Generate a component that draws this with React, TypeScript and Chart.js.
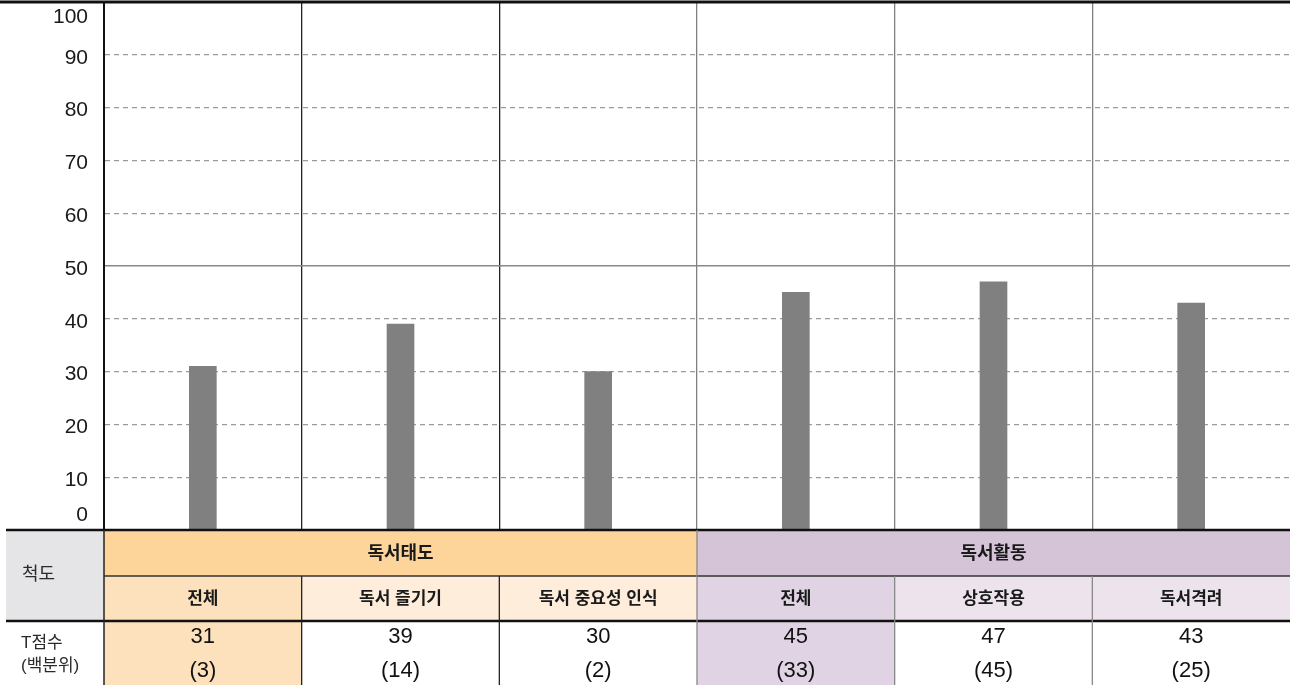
import { useEffect, useRef } from "react";
import Chart from "chart.js/auto";

// 척도별 T점수 / 백분위
const categories = ["전체", "독서 즐기기", "독서 중요성 인식", "전체", "상호작용", "독서격려"];
const groupLabels = ["독서태도", "독서활동"];
const groupSpans = [3, 3];
const tScores = [31, 39, 30, 45, 47, 43];
const percentiles = [3, 14, 2, 33, 45, 25];
const yTicks = [0, 10, 20, 30, 40, 50, 60, 70, 80, 90, 100];
const rowHeader = "척도";
const scoreHeader = ["T점수", "(백분위)"];

const groupColors = ["#fdd59b", "#d5c3d8"];
const firstColColors = ["#fde1bd", "#e0d3e3"];
const subColors = ["#feeddb", "#ece3ed"];
const FONT = "'Liberation Sans', 'Noto Sans CJK KR', sans-serif";

const tablePlugin = {
  id: "scoreTable",
  afterDraw(chart: any) {
    const { ctx, chartArea } = chart;
    const xs = chart.scales.x;
    const ys = chart.scales.y;
    const n = categories.length;
    const colW = (xs.right - xs.left) / n;
    const edge = (i: number) => xs.left + i * colW;
    const left = chartArea.left;
    const right = chartArea.right;
    const tableLeft = 6;
    const r0 = chartArea.bottom;
    const r1 = r0 + 46;
    const r2 = r1 + 45;
    const r3 = chart.height;

    ctx.save();

    // y tick labels
    ctx.font = `21px ${FONT}`;
    ctx.fillStyle = "#1a1a1a";
    ctx.textAlign = "right";
    ctx.textBaseline = "middle";
    yTicks.forEach((v) => {
      const py = ys.getPixelForValue(v);
      const ly = Math.min(Math.max(py + 3, chartArea.top + 15), chartArea.bottom - 15);
      ctx.fillText(String(v), left - 16, ly);
    });

    // cell fills
    ctx.fillStyle = "#e5e5e7";
    ctx.fillRect(tableLeft, r0, left - tableLeft, r2 - r0);
    let col = 0;
    groupSpans.forEach((span, g) => {
      ctx.fillStyle = groupColors[g];
      ctx.fillRect(edge(col), r0, edge(col + span) - edge(col), r1 - r0);
      for (let k = 0; k < span; k++) {
        const c = col + k;
        ctx.fillStyle = k === 0 ? firstColColors[g] : subColors[g];
        ctx.fillRect(edge(c), r1, colW, r2 - r1);
        if (k === 0) {
          ctx.fillStyle = firstColColors[g];
          ctx.fillRect(edge(c), r2, colW, r3 - r2);
        }
      }
      col += span;
    });

    const hline = (x1: number, x2: number, y: number, w: number, c: string) => {
      ctx.beginPath();
      ctx.lineWidth = w;
      ctx.strokeStyle = c;
      ctx.moveTo(x1, y);
      ctx.lineTo(x2, y);
      ctx.stroke();
    };
    const vline = (x: number, y1: number, y2: number, w: number, c: string) => {
      ctx.beginPath();
      ctx.lineWidth = w;
      ctx.strokeStyle = c;
      ctx.moveTo(x, y1);
      ctx.lineTo(x, y2);
      ctx.stroke();
    };

    hline(0, right, chartArea.top, 3, "#111");
    hline(tableLeft, right, r0, 2.5, "#111");
    hline(tableLeft, right, r2, 2.5, "#111");
    hline(left, right, r1, 1.5, "#333");
    vline(left, r0, r3, 1.5, "#222");
    vline(edge(groupSpans[0]), r0, r3, 1.3, "#888");
    for (let i = 1; i < n; i++) {
      if (i === groupSpans[0]) continue;
      vline(edge(i), r1, r3, 1.3, i < groupSpans[0] ? "#222" : "#888");
    }

    // texts
    ctx.fillStyle = "#2a2a2a";
    ctx.textAlign = "left";
    ctx.font = `18px ${FONT}`;
    ctx.fillText(rowHeader, 22, (r0 + r2) / 2);
    ctx.font = `17px ${FONT}`;
    ctx.fillText(scoreHeader[0], 21, r2 + 22);
    ctx.fillText(scoreHeader[1], 21, r2 + 45);

    ctx.fillStyle = "#1a1a1a";
    ctx.textAlign = "center";
    ctx.font = `bold 18px ${FONT}`;
    col = 0;
    groupSpans.forEach((span, g) => {
      ctx.fillText(groupLabels[g], (edge(col) + edge(col + span)) / 2, (r0 + r1) / 2 + 1);
      col += span;
    });
    ctx.font = `bold 17px ${FONT}`;
    categories.forEach((c, i) => {
      ctx.fillText(c, xs.getPixelForValue(i), (r1 + r2) / 2 + 1);
    });

    ctx.fillStyle = "#111";
    ctx.font = `22px ${FONT}`;
    tScores.forEach((v, i) => {
      ctx.fillText(String(v), xs.getPixelForValue(i), r2 + 16);
    });
    percentiles.forEach((v, i) => {
      ctx.fillText(`(${v})`, xs.getPixelForValue(i), r2 + 50);
    });

    ctx.restore();
  },
};

export default function App() {
  const canvasRef = useRef<HTMLCanvasElement>(null);
  const chartInstance = useRef<Chart | null>(null);

  useEffect(() => {
    document.body.style.margin = "0";
    if (!canvasRef.current) return;
    if (chartInstance.current) chartInstance.current.destroy();

    chartInstance.current = new Chart(canvasRef.current, {
      type: "bar",
      data: {
        labels: categories,
        datasets: [
          {
            data: tScores,
            backgroundColor: "#808080",
            borderWidth: 0,
            barThickness: 27,
          },
        ],
      },
      options: {
        responsive: false,
        animation: false,
        layout: { padding: { top: 2, right: 4, bottom: 155, left: 0 } },
        plugins: {
          legend: { display: false },
          tooltip: { enabled: false },
        },
        scales: {
          x: {
            grid: {
              offset: true,
              drawTicks: false,
              lineWidth: 1.3,
              color: (c: any) =>
                c.type !== "tick" ? "rgba(0,0,0,0)" : c.index === 0 ? "#111" : c.index < 3 ? "#222" : "#808080",
            },
            ticks: { display: false },
            border: { display: false },
            afterFit: (s: any) => {
              s.height = 0;
            },
          },
          y: {
            min: 0,
            max: 100,
            ticks: { stepSize: 10, display: false },
            grid: {
              drawTicks: false,
              color: (c: any) => (c.tick && c.tick.value === 50 ? "#888" : "#9a9a9a"),
              lineWidth: (c: any) => (c.tick && c.tick.value === 50 ? 1.5 : 1.2),
            },
            border: {
              display: true,
              color: "#111",
              width: 2,
              dash: (c: any) => (c.type === "tick" && c.tick.value !== 50 ? [5, 4] : []),
            },
            afterFit: (s: any) => {
              s.width = 104;
            },
          },
        },
      },
      plugins: [tablePlugin],
    });

    return () => {
      if (chartInstance.current) {
        chartInstance.current.destroy();
        chartInstance.current = null;
      }
    };
  }, []);

  return <canvas ref={canvasRef} width={1294} height={685} style={{ display: "block" }} />;
}
